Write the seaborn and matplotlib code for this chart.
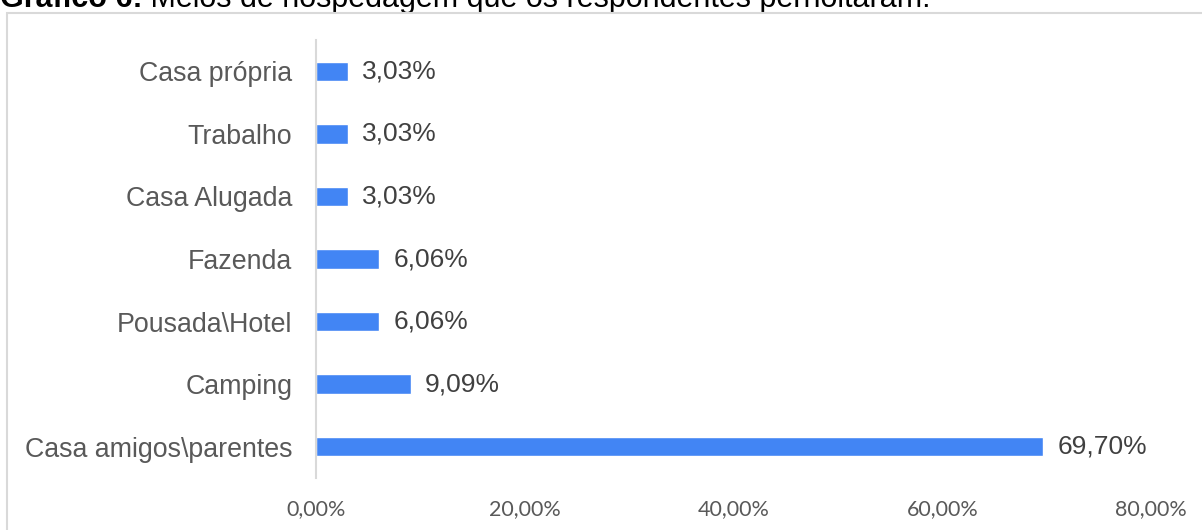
import matplotlib
matplotlib.use('Agg')
import matplotlib.pyplot as plt
import seaborn as sns
from matplotlib.patches import Rectangle

# dados (de cima para baixo)
categorias = ['Casa própria', 'Trabalho', 'Casa Alugada', 'Fazenda',
              'Pousada\\Hotel', 'Camping', 'Casa amigos\\parentes']
valores = [3.03, 3.03, 3.03, 6.06, 6.06, 9.09, 69.70]
xticks = [0, 20, 40, 60, 80]

sns.set_theme(style='white')
plt.rcParams['font.family'] = ['Liberation Sans', 'DejaVu Sans']

fig = plt.figure(figsize=(12.02, 5.30), dpi=100)
ax = fig.add_axes([316 / 1202, 1 - 478 / 530, 835 / 1202, 438 / 530])

sns.barplot(x=valores, y=categorias, orient='h', color='#4285F4',
            saturation=1, width=0.31, ax=ax)

labels = [f'{v:.2f}%'.replace('.', ',') for v in valores]
ax.bar_label(ax.containers[0], labels=labels, padding=10,
             fontsize=19, color='#404040')

ax.set_xlim(0, 80)
ax.set_ylim(6.5, -0.5)
ax.set_xticks(xticks)
ax.set_xticklabels([f'{t:.2f}%'.replace('.', ',') for t in xticks],
                   fontfamily='Lato', fontsize=15.5, color='#595959')
ax.tick_params(axis='x', length=0, pad=15)
ax.tick_params(axis='y', length=0, pad=17, labelsize=19.3, labelcolor='#595959')
ax.set_xlabel('')
ax.set_ylabel('')

for s in ['top', 'right', 'bottom']:
    ax.spines[s].set_visible(False)
ax.spines['left'].set_color('#d9d9d9')
ax.spines['left'].set_linewidth(1.5)

# moldura
fig.patches.append(Rectangle((7 / 1202, -0.1), 1.2, 1 - 13 / 530 + 0.1,
                             transform=fig.transFigure, fill=False,
                             edgecolor='#d9d9d9', linewidth=1.5))

# título (cortado no topo, como no original)
t1 = fig.text(0.0, 1 - 7 / 530, 'Gráfico 6:', fontsize=22, fontweight='bold',
              color='black', va='baseline', ha='left')
ax.annotate(' Meios de hospedagem que os respondentes pernoitaram.',
            xy=(1, 0), xycoords=t1, va='bottom', ha='left',
            fontsize=22, color='black', annotation_clip=False)

fig.savefig('out.png', dpi=100)
